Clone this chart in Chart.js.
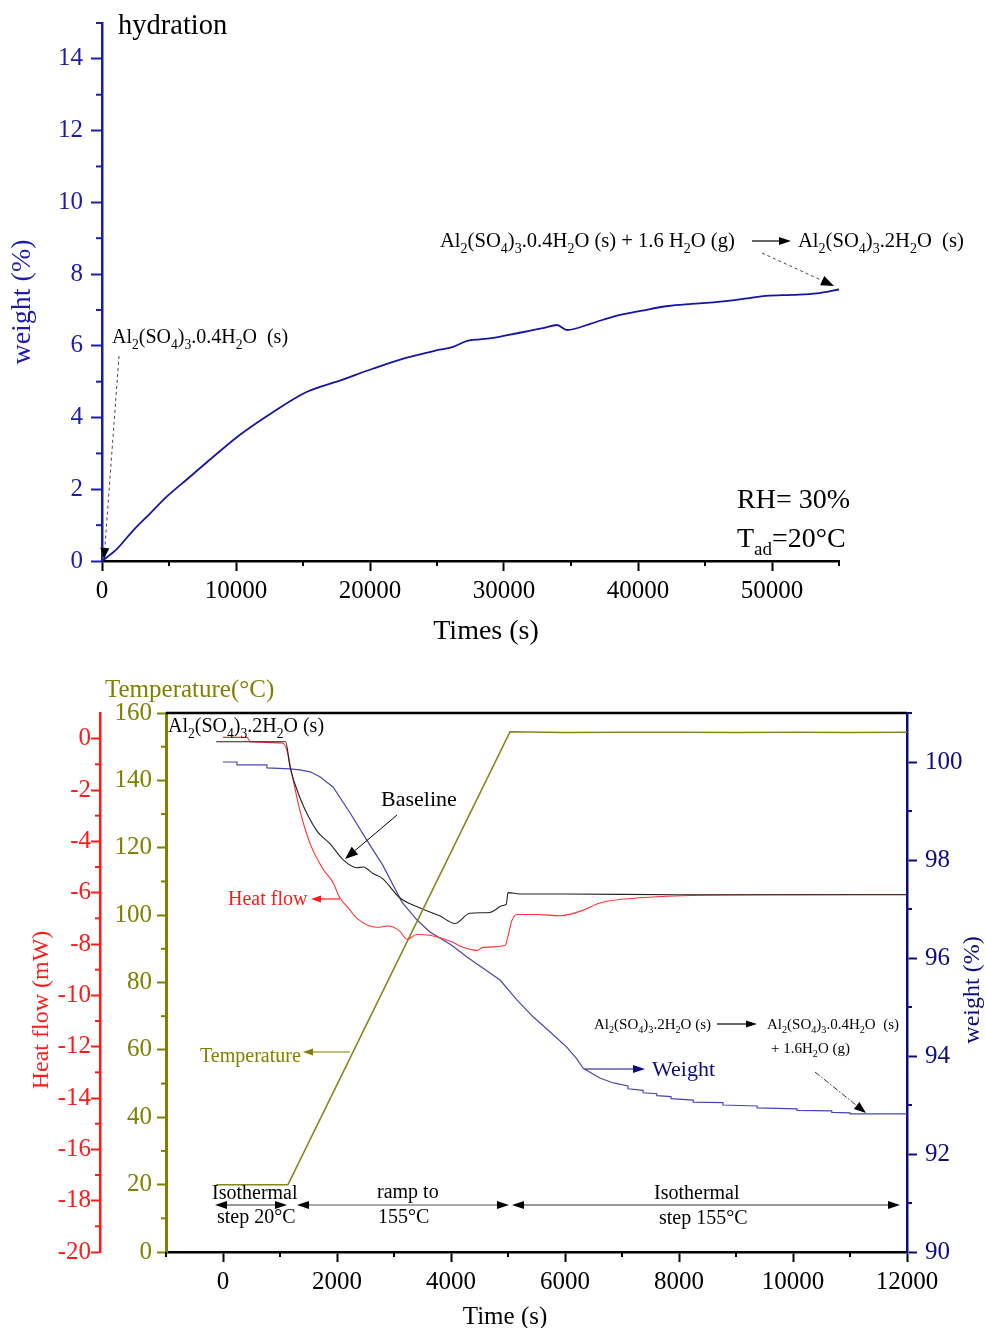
<!DOCTYPE html>
<html><head><meta charset="utf-8">
<script src="https://cdn.jsdelivr.net/npm/chart.js@4.4.1/dist/chart.umd.min.js"></script>
<style>
html,body{margin:0;padding:0;background:#fff;}
#wrap{position:relative;width:986px;height:1328px;overflow:hidden;background:#fff;}
canvas{position:absolute;left:0;top:0;}
</style></head><body>
<div id="wrap"><canvas id="c1" width="986" height="1328"></canvas><canvas id="c2" width="986" height="1328"></canvas></div>
<script>
// ---------- DATA: top chart (hydration) ----------
const hydTime   = [0,1100,2300,3600,4850,6350,7850,10300,12750,15300,17750,20200,22750,25200,26200,27250,28200,29200,31000,33000,33950,34700,36500,38300,40300,42250,44000,45800,47700,49550,51500,53350,55000];
const hydWeight = [0,0.33,0.84,1.33,1.8,2.28,2.76,3.52,4.15,4.72,5.03,5.36,5.67,5.89,5.97,6.14,6.18,6.22,6.35,6.5,6.58,6.44,6.62,6.83,6.98,7.11,7.17,7.22,7.3,7.39,7.42,7.46,7.57];
const topXTicks = [0,10000,20000,30000,40000,50000];
const topXMinor = [5000,15000,25000,35000,45000,55000];
const topYTicks = [0,2,4,6,8,10,12,14];
const topYMinor = [1,3,5,7,9,11,13,15];

// ---------- DATA: bottom chart (dehydration) ----------
const tempTime  = [-120,1140,5035,6000,7000,8000,9000,10000,11000,12000];
const tempValue = [20,20,154.4,154.2,154.3,154.3,154.2,154.3,154.2,154.3];
const hfTime  = [0,420,480,1050,1120,1230,1350,1530,1760,1930,2050,2200,2350,2700,2900,3100,3230,3400,3630,4000,4210,4460,4560,4950,5000,5070,5160,5500,5910,6300,6610,7320,8370,10000,12000];
const hfValue = [0.05,0.05,-0.12,-0.18,-0.45,-1.6,-2.8,-4.1,-5.1,-5.6,-6.2,-6.6,-7.0,-7.35,-7.3,-7.5,-7.82,-7.63,-7.66,-7.9,-8.13,-8.25,-8.13,-8.05,-7.7,-7.08,-6.85,-6.85,-6.9,-6.7,-6.4,-6.2,-6.1,-6.08,-6.07];
const blTime  = [-120,1100,1175,1350,1650,1880,2100,2350,2460,2630,2800,3100,3460,3800,4070,4330,4680,4910,4970,5000,5210,6000,8000,10000,12000];
const blValue = [-0.12,-0.12,-1.1,-2.3,-3.6,-4.1,-4.7,-5.03,-5.0,-5.25,-5.45,-6.2,-6.6,-6.9,-7.2,-6.8,-6.77,-6.5,-6.45,-6.0,-6.05,-6.05,-6.08,-6.08,-6.08];
const wtTime  = [0,245,245,770,770,1175,1350,1530,1700,1930,2230,2520,2800,3140,3400,3630,4000,4280,4860,5160,5440,5740,6030,6200,6320,6610,6850,7105,7105,7370,7370,7610,7610,7860,7860,8250,8250,8770,8770,9370,9370,10070,10070,10680,10680,11000,11000,12000];
const wtValue = [100.0,100.0,99.94,99.94,99.88,99.86,99.84,99.8,99.7,99.49,98.96,98.41,97.9,97.14,96.78,96.53,96.27,96.02,95.55,95.14,94.8,94.49,94.18,93.95,93.75,93.55,93.45,93.39,93.33,93.30,93.25,93.23,93.19,93.17,93.13,93.10,93.06,93.05,93.00,92.98,92.94,92.92,92.89,92.88,92.85,92.84,92.82,92.82];
const botXTicks = [0,2000,4000,6000,8000,10000,12000];
const botXMinor = [-1000,1000,3000,5000,7000,9000,11000];
const tempTicks = [0,20,40,60,80,100,120,140,160];
const tempMinor = [10,30,50,70,90,110,130,150];
const hfTicks   = [-20,-18,-16,-14,-12,-10,-8,-6,-4,-2,0];
const hfMinor   = [-19,-17,-15,-13,-11,-9,-7,-5,-3,-1];
const wtTicks   = [90,92,94,96,98,100];
const wtMinor   = [91,93,95,97,99,101];

// ---------- STYLE ----------
const SERIF = "'Liberation Serif','Times New Roman',serif";
Chart.defaults.font.family = SERIF;
const TOPBLUE = '#1c1ca8', TOPLINE = '#1515a2';
const RED = '#ff1a1a', REDLINE = '#ff3030';
const OLIVE = '#7f7f00', OLIVELINE = '#85851c';
const NAVY = '#0c0c80', WTLINE = '#4747b2';

const pts = (xs, ys) => xs.map((x, i) => ({x: x, y: ys[i]}));
const setTicks = vals => scale => { scale.ticks = vals.map(v => ({value: v})); };
const fixW = w => s => { s.width = w; };
const fixH = h => s => { s.height = h; };
const lbl = v => String(v);

function axisOpts(o) {
  return {
    type: 'linear', position: o.pos, min: o.min, max: o.max, weight: o.weight || 0,
    afterBuildTicks: setTicks(o.ticks),
    afterFit: o.pos === 'bottom' ? fixH(o.size) : fixW(o.size),
    ticks: {font: {size: o.font || 25}, color: o.labelColor || o.color, padding: o.pad, autoSkip: false, maxRotation: 0, callback: lbl},
    grid: {display: true, drawOnChartArea: false, drawTicks: true, tickLength: o.tl || 10, tickWidth: 2, tickColor: o.color, color: o.color},
    border: {display: true, color: o.color, width: o.bw || 2.5}
  };
}

// ---------- DRAW HELPERS ----------
function richText(ctx, x, y, str, size, color, align) {
  const parts = []; let i = 0;
  while (i < str.length) {
    if (str[i] === '_') {
      let t;
      if (str[i + 1] === '{') { const j = str.indexOf('}', i); t = str.slice(i + 2, j); i = j + 1; }
      else { t = str[i + 1]; i += 2; }
      parts.push({t: t, sub: true});
    } else {
      let j = i; while (j < str.length && str[j] !== '_') j++;
      parts.push({t: str.slice(i, j), sub: false}); i = j;
    }
  }
  const sub = size * 0.68;
  ctx.save(); ctx.fillStyle = color; ctx.textBaseline = 'alphabetic'; ctx.textAlign = 'left';
  let w = 0;
  parts.forEach(p => { ctx.font = (p.sub ? sub : size) + 'px ' + SERIF; p.w = ctx.measureText(p.t).width; w += p.w; });
  let cx = align === 'center' ? x - w / 2 : (align === 'right' ? x - w : x);
  parts.forEach(p => { ctx.font = (p.sub ? sub : size) + 'px ' + SERIF; ctx.fillText(p.t, cx, p.sub ? y + size * 0.28 : y); cx += p.w; });
  ctx.restore();
}
function vText(ctx, x, y, str, size, color) {
  ctx.save(); ctx.translate(x, y); ctx.rotate(-Math.PI / 2);
  ctx.font = size + 'px ' + SERIF; ctx.fillStyle = color; ctx.textAlign = 'center'; ctx.textBaseline = 'middle';
  ctx.fillText(str, 0, 0); ctx.restore();
}
function head(ctx, x, y, ang, L, W) {
  ctx.beginPath();
  ctx.moveTo(x, y);
  ctx.lineTo(x - Math.cos(ang) * L - Math.sin(ang) * W, y - Math.sin(ang) * L + Math.cos(ang) * W);
  ctx.lineTo(x - Math.cos(ang) * L + Math.sin(ang) * W, y - Math.sin(ang) * L - Math.cos(ang) * W);
  ctx.closePath(); ctx.fill();
}
function arrow(ctx, x1, y1, x2, y2, o) {
  const L = o.head || 11, W = o.hw || 4;
  const ang = Math.atan2(y2 - y1, x2 - x1);
  ctx.save(); ctx.strokeStyle = o.color; ctx.fillStyle = o.hcolor || o.color; ctx.lineWidth = o.width || 1;
  if (o.dash) ctx.setLineDash(o.dash);
  const sx = o.both ? x1 + Math.cos(ang) * L * 0.8 : x1, sy = o.both ? y1 + Math.sin(ang) * L * 0.8 : y1;
  ctx.beginPath(); ctx.moveTo(sx, sy); ctx.lineTo(x2 - Math.cos(ang) * L * 0.8, y2 - Math.sin(ang) * L * 0.8); ctx.stroke();
  ctx.setLineDash([]);
  head(ctx, x2, y2, ang, L, W);
  if (o.both) head(ctx, x1, y1, ang + Math.PI, L, W);
  ctx.restore();
}
function makeMinor(id, items) {
  return {
    id: id,
    afterDraw(chart) {
      const ctx = chart.ctx;
      items.forEach(it => {
        const s = chart.scales[it.id];
        ctx.save(); ctx.strokeStyle = it.color; ctx.lineWidth = 2;
        it.values.forEach(v => {
          const p = s.getPixelForValue(v);
          ctx.beginPath();
          if (s.isHorizontal()) { ctx.moveTo(p, s.top); ctx.lineTo(p, s.top + it.len); }
          else if (s.position === 'left') { ctx.moveTo(s.right, p); ctx.lineTo(s.right - it.len, p); }
          else { ctx.moveTo(s.left, p); ctx.lineTo(s.left + it.len, p); }
          ctx.stroke();
        });
        ctx.restore();
      });
    }
  };
}

// ---------- TOP CHART ----------
const topText = {
  id: 'topText',
  afterDraw(chart) {
    const ctx = chart.ctx;
    richText(ctx, 118, 34, 'hydration', 28.5, '#000');
    vText(ctx, 23, 302, 'weight (%)', 28, TOPBLUE);
    richText(ctx, 486, 639, 'Times (s)', 28, '#000', 'center');
    richText(ctx, 112, 343, 'Al_2(SO_4)_3.0.4H_2O  (s)', 20, '#000');
    arrow(ctx, 119, 356, 104, 559, {color: '#444', width: 1, dash: [3, 3], hcolor: '#000', head: 11, hw: 4.5});
    richText(ctx, 440, 247, 'Al_2(SO_4)_3.0.4H_2O (s) + 1.6 H_2O (g)', 20.6, '#000');
    arrow(ctx, 752, 241, 791, 241, {color: '#000', width: 1.2, head: 12, hw: 4});
    richText(ctx, 798, 247, 'Al_2(SO_4)_3.2H_2O  (s)', 20.6, '#000');
    arrow(ctx, 762, 253, 834, 286, {color: '#444', width: 1, dash: [3, 3], hcolor: '#000', head: 13, hw: 5});
    richText(ctx, 737, 508, 'RH= 30%', 28, '#000');
    richText(ctx, 737, 547, 'T_{ad}=20°C', 28, '#000');
  }
};
new Chart(document.getElementById('c1'), {
  type: 'line',
  data: {datasets: [{data: pts(hydTime, hydWeight), borderColor: TOPLINE, borderWidth: 1.8, pointRadius: 0, cubicInterpolationMode: 'monotone'}]},
  options: {
    responsive: false, animation: false, devicePixelRatio: 1,
    layout: {padding: {left: 0, right: 147, top: 22, bottom: 668}},
    plugins: {legend: {display: false}, tooltip: {enabled: false}},
    scales: {
      x: axisOpts({pos: 'bottom', min: 0, max: 55000, ticks: topXTicks, size: 99, color: '#000', pad: 5, tl: 10}),
      y: axisOpts({pos: 'left', min: 0, max: 15, ticks: topYTicks, size: 102, color: TOPBLUE, pad: 8, tl: 11})
    }
  },
  plugins: [makeMinor('minorTop', [
    {id: 'x', values: topXMinor, len: 5, color: '#000'},
    {id: 'y', values: topYMinor, len: 6, color: TOPBLUE}
  ]), topText]
});

// ---------- BOTTOM CHART ----------
const botText = {
  id: 'botText',
  afterDraw(chart) {
    const ctx = chart.ctx, a = chart.chartArea;
    ctx.save(); ctx.strokeStyle = '#000'; ctx.lineWidth = 2.5;
    ctx.beginPath(); ctx.moveTo(a.left, a.top); ctx.lineTo(a.right, a.top); ctx.stroke(); ctx.restore();
    richText(ctx, 105, 697, 'Temperature(°C)', 25, OLIVE);
    vText(ctx, 42, 1010, 'Heat flow (mW)', 24, RED);
    vText(ctx, 973, 990, 'weight (%)', 24, NAVY);
    richText(ctx, 505, 1324, 'Time (s)', 25, '#000', 'center');
    richText(ctx, 168, 732, 'Al_2(SO_4)_3.2H_2O (s)', 20, '#000');
    richText(ctx, 381, 806, 'Baseline', 22, '#000');
    arrow(ctx, 397, 815, 345, 859, {color: '#000', width: 1, head: 13, hw: 5});
    richText(ctx, 228, 905, 'Heat flow', 20, RED);
    arrow(ctx, 340, 899, 311, 899, {color: RED, width: 1.2, head: 10, hw: 3.5});
    richText(ctx, 200, 1062, 'Temperature', 20, OLIVE);
    arrow(ctx, 350, 1052, 303, 1052, {color: OLIVE, width: 1.2, head: 10, hw: 3.5});
    richText(ctx, 652, 1076, 'Weight', 22, NAVY);
    arrow(ctx, 585, 1069, 645, 1069, {color: NAVY, width: 1.2, head: 12, hw: 4});
    richText(ctx, 594, 1029, 'Al_2(SO_4)_3.2H_2O (s)', 15, '#000');
    arrow(ctx, 717, 1024, 757, 1024, {color: '#000', width: 1.2, head: 11, hw: 3.5});
    richText(ctx, 767, 1029, 'Al_2(SO_4)_3.0.4H_2O  (s)', 15, '#000');
    richText(ctx, 771, 1053, '+ 1.6H_2O (g)', 15, '#000');
    arrow(ctx, 815, 1072, 866, 1113, {color: '#333', width: 1, dash: [6, 2, 1.5, 2], hcolor: '#000', head: 12, hw: 4.5});
    richText(ctx, 212, 1199, 'Isothermal', 20, '#000');
    richText(ctx, 217, 1223, 'step 20°C', 20, '#000');
    arrow(ctx, 215, 1205, 287, 1205, {color: '#333', width: 1, both: true, hcolor: '#000', head: 12, hw: 4});
    richText(ctx, 377, 1198, 'ramp to', 20, '#000');
    richText(ctx, 378, 1223, '155°C', 20, '#000');
    arrow(ctx, 297, 1205, 509, 1205, {color: '#555', width: 1, both: true, hcolor: '#000', head: 12, hw: 4});
    richText(ctx, 654, 1199, 'Isothermal', 20, '#000');
    richText(ctx, 659, 1224, 'step 155°C', 20, '#000');
    arrow(ctx, 512, 1205, 900, 1205, {color: '#333', width: 1, both: true, hcolor: '#000', head: 12, hw: 4});
  }
};
new Chart(document.getElementById('c2'), {
  type: 'line',
  data: {datasets: [
    {data: pts(tempTime, tempValue), yAxisID: 'temp', borderColor: OLIVELINE, borderWidth: 1.5, pointRadius: 0, tension: 0},
    {data: pts(blTime, blValue), yAxisID: 'hf', borderColor: '#222', borderWidth: 1.1, pointRadius: 0, cubicInterpolationMode: 'monotone'},
    {data: pts(hfTime, hfValue), yAxisID: 'hf', borderColor: REDLINE, borderWidth: 1.1, pointRadius: 0, cubicInterpolationMode: 'monotone'},
    {data: pts(wtTime, wtValue), yAxisID: 'wt', borderColor: WTLINE, borderWidth: 1.2, pointRadius: 0, tension: 0}
  ]},
  options: {
    responsive: false, animation: false, devicePixelRatio: 1,
    layout: {padding: {left: 0, right: 0, top: 713, bottom: 0}},
    plugins: {legend: {display: false}, tooltip: {enabled: false}},
    scales: {
      x: axisOpts({pos: 'bottom', min: -1000, max: 12000, ticks: botXTicks, size: 76, color: '#000', pad: 5, tl: 10}),
      hf: axisOpts({pos: 'left', min: -20, max: 1, ticks: hfTicks, size: 100, color: RED, pad: 0, tl: 9, weight: 2}),
      temp: axisOpts({pos: 'left', min: 0, max: 160, ticks: tempTicks, size: 66, color: OLIVE, pad: 5, tl: 9, bw: 3, weight: 1}),
      wt: axisOpts({pos: 'right', min: 90, max: 101, ticks: wtTicks, size: 79, color: NAVY, pad: 8, tl: 10})
    }
  },
  plugins: [makeMinor('minorBot', [
    {id: 'x', values: botXMinor, len: 5, color: '#000'},
    {id: 'temp', values: tempMinor, len: 5, color: OLIVE},
    {id: 'hf', values: hfMinor, len: 5, color: RED},
    {id: 'wt', values: wtMinor, len: 5, color: NAVY}
  ]), botText]
});
</script>
</body></html>
